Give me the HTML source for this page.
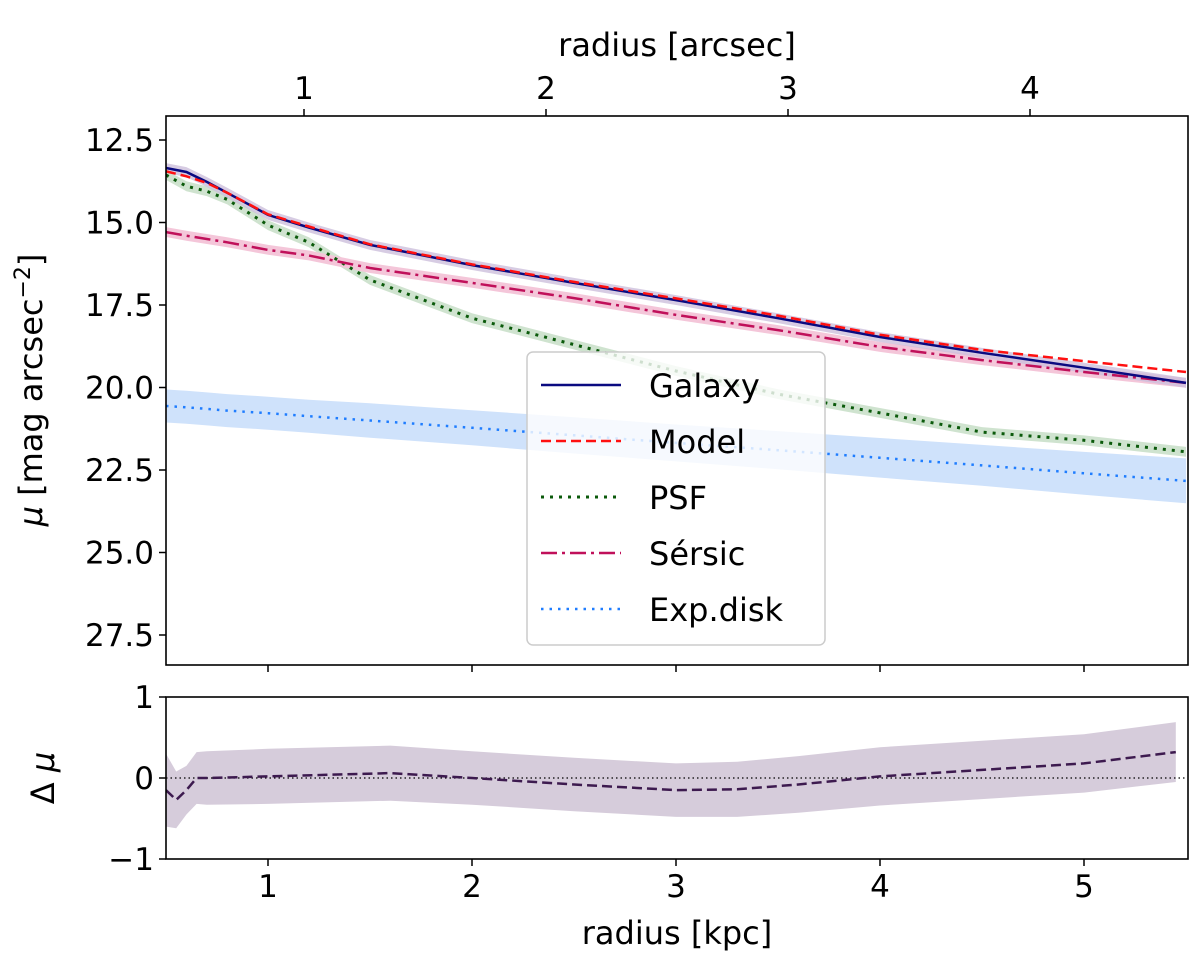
<!DOCTYPE html>
<html><head><meta charset="utf-8"><style>
html,body{margin:0;padding:0;background:#fff;}
svg{display:block;font-family:"DejaVu Sans","Liberation Sans",sans-serif;}
</style></head><body>
<svg id="chart" width="1200" height="964" viewBox="0 0 1200 964"></svg>
<script>
const radii = [0.5,0.6,0.7,0.8,1.0,1.2,1.5,2.0,2.5,3.0,3.5,4.0,4.5,5.0,5.5];
const galaxyMu = [13.35,13.47,13.77,14.1,14.77,15.15,15.68,16.29,16.83,17.35,17.9,18.47,18.95,19.4,19.86];
const modelMu  = [13.45,13.6,13.8,14.1,14.75,15.12,15.66,16.27,16.8,17.3,17.82,18.4,18.86,19.2,19.53];
const psfMu    = [13.56,13.9,14.05,14.3,15.08,15.6,16.74,17.9,18.7,19.5,20.2,20.77,21.35,21.6,21.95];
const sersicMu = [15.29,15.4,15.5,15.6,15.83,16.0,16.38,16.83,17.29,17.8,18.26,18.77,19.17,19.53,19.86];
const expMu    = [20.56,20.6,20.65,20.7,20.78,20.87,21.0,21.22,21.45,21.68,21.9,22.13,22.36,22.6,22.83];
const expErr   = [0.5,0.5,0.5,0.5,0.5,0.5,0.52,0.53,0.55,0.56,0.58,0.6,0.62,0.65,0.68];
const resX   = [0.5,0.55,0.6,0.65,0.7,1.0,1.6,2.0,2.5,3.0,3.3,3.6,4.0,4.5,5.0,5.45];
const resVal = [-0.15,-0.27,-0.15,0.0,0.0,0.02,0.06,0.0,-0.08,-0.15,-0.14,-0.08,0.02,0.1,0.18,0.32];
const resErr = [0.45,0.35,0.3,0.32,0.33,0.34,0.34,0.33,0.33,0.33,0.34,0.35,0.36,0.36,0.36,0.37];
const muTicks = [12.5,15.0,17.5,20.0,22.5,25.0,27.5];
const kpcTicks = [1,2,3,4,5];
const arcTicks = [1,2,3,4];
const resTicks = [1,0,-1];

const NS="http://www.w3.org/2000/svg";
const svg=document.getElementById('chart');
const L=166,R=1188,T1=116,B1=665,T2=697,B2=859;
const X=v=>L+(v-0.5)*204;
const XA=v=>304+(v-1)*242;
const Y=m=>140+(m-12.5)*33;
const YR=d=>778-d*81;
function el(tag,attrs,parent){const e=document.createElementNS(NS,tag);for(const k in attrs)e.setAttribute(k,attrs[k]);(parent||svg).appendChild(e);return e;}
function txt(s,x,y,size,anchor,extra){const t=el('text',Object.assign({x:x,y:y,'font-size':size,'text-anchor':anchor||'middle',fill:'#000'},extra||{}));t.textContent=s;return t;}
function line(xs,ys,fx,fy,attrs){return el('path',Object.assign({d:xs.map((x,i)=>(i?'L':'M')+fx(x).toFixed(1)+','+fy(ys[i]).toFixed(1)).join(''),fill:'none'},attrs));}
function band(xs,ys,errs,fx,fy,attrs){let d=xs.map((x,i)=>(i?'L':'M')+fx(x).toFixed(1)+','+fy(ys[i]-errs[i]).toFixed(1)).join('');for(let i=xs.length-1;i>=0;i--)d+='L'+fx(xs[i]).toFixed(1)+','+fy(ys[i]+errs[i]).toFixed(1);return el('path',Object.assign({d:d+'Z'},attrs));}

const cp1=el('clipPath',{id:'c1'});
el('rect',{x:L,y:T1,width:R-L,height:B1-T1},cp1);
const g1=el('g',{'clip-path':'url(#c1)'});



let b;
b=band(radii,expMu,expErr,X,Y,{fill:'#cfe2fb'});g1.appendChild(b);

b=band(radii,psfMu,radii.map(()=>0.15),X,Y,{fill:'#cfe3cf'});g1.appendChild(b);

b=band(radii,sersicMu,radii.map(()=>0.15),X,Y,{fill:'#f4c6d9'});g1.appendChild(b);

b=band(radii,galaxyMu,radii.map(()=>0.15),X,Y,{fill:'#cdbfdc',opacity:0.8});g1.appendChild(b);


let ln;
ln=line(radii,expMu,X,Y,{stroke:'#1f7dff','stroke-width':2.5,'stroke-dasharray':'2.5 6'});g1.appendChild(ln);

ln=line(radii,psfMu,X,Y,{stroke:'#0b5a0b','stroke-width':3,'stroke-dasharray':'3 6'});g1.appendChild(ln);

ln=line(radii,sersicMu,X,Y,{stroke:'#c0105a','stroke-width':2.5,'stroke-dasharray':'16 5 3 5'});g1.appendChild(ln);

ln=line(radii,galaxyMu,X,Y,{stroke:'#0a0a80','stroke-width':2.5});g1.appendChild(ln);

ln=line(radii,modelMu,X,Y,{stroke:'#ff1010','stroke-width':2.5,'stroke-dasharray':'10 5'});g1.appendChild(ln);


const f1=el('rect',{x:L,y:T1,width:R-L,height:B1-T1,fill:'none',stroke:'#000','stroke-width':1.6});

muTicks.forEach(m=>{el('line',{x1:L-7,x2:L,y1:Y(m),y2:Y(m),stroke:'#000','stroke-width':1.5});
 const t=txt(m.toFixed(1),L-12,Y(m)+11,31,'end');});
kpcTicks.forEach(k=>{el('line',{x1:X(k),x2:X(k),y1:B1,y2:B1+7,stroke:'#000','stroke-width':1.5});});
arcTicks.forEach(a=>{el('line',{x1:XA(a),x2:XA(a),y1:T1-7,y2:T1,stroke:'#000','stroke-width':1.5});
 const t=txt(String(a),XA(a),99,31);});
let t=txt('radius [arcsec]',677,56,32);
t=el('text',{x:0,y:0,'font-size':32,'text-anchor':'middle',transform:'translate(42,390) rotate(-90)'});
t.innerHTML='<tspan font-style="italic">μ</tspan> [mag arcsec<tspan dy="-12" font-size="22">−2</tspan><tspan dy="12">]</tspan>';


const lg=el('g',{});

el('rect',{x:527,y:352,width:298,height:293,rx:6,fill:'#fff','fill-opacity':0.8,stroke:'#ccc','stroke-width':1.5},lg);
const legNames=['Galaxy','Model','PSF','Sérsic','Exp.disk'];
const legStyles=[{stroke:'#0a0a80'},{stroke:'#ff1010','stroke-dasharray':'10 5'},{stroke:'#0b5a0b','stroke-dasharray':'3 6','stroke-width':3},{stroke:'#c0105a','stroke-dasharray':'16 5 3 5'},{stroke:'#1f7dff','stroke-dasharray':'2.5 6'}];
legNames.forEach((n,i)=>{const y=385+i*56;
 el('line',Object.assign({x1:541,x2:621,y1:y,y2:y,'stroke-width':2.5},legStyles[i]),lg);
 const tt=el('text',{x:649,y:y+12,'font-size':32},lg);tt.textContent=n;
 });

const cp2=el('clipPath',{id:'c2'});
el('rect',{x:L,y:T2,width:R-L,height:B2-T2},cp2);
const g2=el('g',{'clip-path':'url(#c2)'});

b=band(resX,resVal,resErr,X,YR,{fill:'#d6ccdb'});g2.appendChild(b);

const zl=el('line',{x1:L,x2:R,y1:YR(0),y2:YR(0),stroke:'#000','stroke-width':1.3,'stroke-dasharray':'1.5 3'},g2);

ln=line(resX,resVal,X,YR,{stroke:'#3d1a4f','stroke-width':2.5,'stroke-dasharray':'10 5'});g2.appendChild(ln);

const f2=el('rect',{x:L,y:T2,width:R-L,height:B2-T2,fill:'none',stroke:'#000','stroke-width':1.6});

resTicks.forEach(d=>{el('line',{x1:L-7,x2:L,y1:YR(d),y2:YR(d),stroke:'#000','stroke-width':1.5});
 const tt=txt(d<0?'−1':String(d),L-12,YR(d)+11,31,'end');});
kpcTicks.forEach(k=>{el('line',{x1:X(k),x2:X(k),y1:B2,y2:B2+7,stroke:'#000','stroke-width':1.5});
 const tt=txt(String(k),X(k),897,31);});
t=txt('radius [kpc]',677,944,32);
t=el('text',{x:0,y:0,'font-size':32,'text-anchor':'middle',transform:'translate(54,778) rotate(-90)'});
t.innerHTML='Δ <tspan font-style="italic">μ</tspan>';

</script>
</body></html>
